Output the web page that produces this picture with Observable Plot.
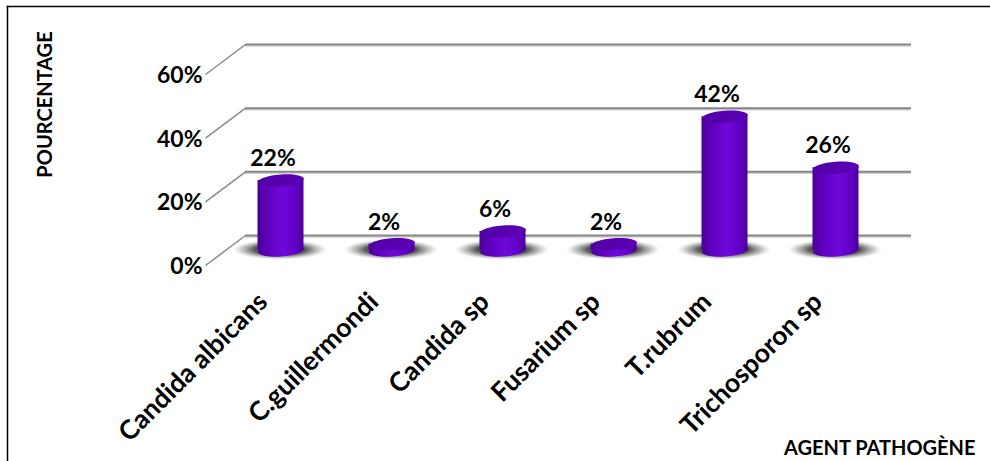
<!DOCTYPE html>
<html>
<head>
<meta charset="utf-8">
<script src="https://cdn.jsdelivr.net/npm/d3@7"></script>
<script src="https://cdn.jsdelivr.net/npm/@observablehq/plot@0.6"></script>
<style>
  html, body { margin: 0; padding: 0; background: #fff; overflow: hidden; }
  #chart svg { display: block; }
</style>
</head>
<body>
<div id="chart"></div>
<script>
// ---- data ----
const categories = ["Candida albicans", "C.guillermondi", "Candida sp", "Fusarium sp", "T.rubrum", "Trichosporon sp"];
const values = [22, 2, 6, 2, 42, 26];
const yTicks = [0, 20, 40, 60];
const yTitle = "POURCENTAGE";
const xTitle = "AGENT PATHOGÈNE";

const data = categories.map((c, i) => ({c, i: i + 0.5, v: values[i]}));

// ---- 3D geometry (pixel constants) ----
const W = 990, H = 461;
const xRange = [225, 891], yRange = [250, 59];
const pxPerX = (xRange[1] - xRange[0]) / categories.length;
const pxPerY = (yRange[0] - yRange[1]) / 60;
const depthPx = [20, 15]; // back plane offset from mid plane (right, up)
const dX = depthPx[0] / pxPerX, dY = depthPx[1] / pxPerY;
const halfW = 23 / pxPerX;

function ellipse(rx, ry) {
  const k = 0.5523;
  return {
    draw(ctx) {
      ctx.moveTo(rx, 0);
      ctx.bezierCurveTo(rx, ry * k, rx * k, ry, 0, ry);
      ctx.bezierCurveTo(-rx * k, ry, -rx, ry * k, -rx, 0);
      ctx.bezierCurveTo(-rx, -ry * k, -rx * k, -ry, 0, -ry);
      ctx.bezierCurveTo(rx * k, -ry, rx, -ry * k, rx, 0);
      ctx.closePath();
    }
  };
}

const font = "Lato, 'Open Sans', sans-serif";

const svg = Plot.plot({
  width: W,
  height: H,
  margin: 0,
  style: {fontFamily: font, background: "#fff"},
  x: {type: "linear", domain: [0, categories.length], range: xRange, axis: null},
  y: {type: "linear", domain: [0, 60], range: yRange, axis: null},
  marks: [
    // chart border (top & left only)
    Plot.frame({anchor: "top", stroke: "#000", strokeWidth: 1.5, insetTop: 6, insetLeft: 7}),
    Plot.frame({anchor: "left", stroke: "#000", strokeWidth: 1.5, insetTop: 6, insetLeft: 7}),
    // back wall gridlines (soft shadow + line)
    Plot.ruleY(yTicks, {x1: dX, x2: categories.length + dX, y: d => d + dY, stroke: "#d0d0d0", strokeWidth: 1.5, dy: 1.5}),
    Plot.ruleY(yTicks, {x1: dX, x2: categories.length + dX, y: d => d + dY, stroke: "#858585", strokeWidth: 2}),
    // side-wall diagonals
    Plot.link(yTicks, {x1: dX, y1: d => d + dY, x2: -dX, y2: d => d - dY, stroke: "#8a8a8a", strokeWidth: 1.5}),
    // shadows
    Plot.dot(data, {x: "i", y: 0, symbol: ellipse(47, 10), fill: "url(#shadowGrad)", stroke: null, dy: -1, dx: -1}),
    // cylinder bottoms
    Plot.dot(data, {x: "i", y: 0, symbol: ellipse(23, 6), fill: "url(#bodyGrad)", stroke: null, rotate: -4}),
    // cylinder bodies
    Plot.rect(data, {x1: d => d.i - halfW, x2: d => d.i + halfW, y1: 0, y2: "v", fill: "url(#bodyGrad)"}),
    // cylinder tops
    Plot.dot(data, {x: "i", y: "v", symbol: ellipse(23, 6), fill: "url(#topGrad)", stroke: null, rotate: -4}),
    // value labels
    Plot.text(data, {x: "i", y: "v", text: d => d.v + "%", dx: -8, dy: -22, fontSize: 23, fontWeight: "bold", fill: "#000"}),
    // y tick labels
    Plot.text(yTicks, {x: 0, y: d => d - dY, text: d => d + "%", textAnchor: "end", dx: -23, dy: 1, fontSize: 23, fontWeight: "bold", fill: "#000"}),
    // x tick labels
    Plot.text(data, {x: "i", y: 0, text: "c", rotate: -45, textAnchor: "end", lineAnchor: "bottom", dx: -12, dy: 53, fontSize: 26.5, fontWeight: "bold", fill: "#000"}),
    // axis titles
    Plot.text([yTitle], {frameAnchor: "top-left", text: d => d, rotate: -90, textAnchor: "middle", dx: 37, dy: 104, fontSize: 20, fontWeight: "bold", fill: "#000"}),
    Plot.text([xTitle], {frameAnchor: "bottom-right", text: d => d, textAnchor: "end", lineAnchor: "bottom", dx: -15, dy: -7, fontSize: 20, fontWeight: "bold", fill: "#000"})
  ]
});

svg.insertAdjacentHTML("afterbegin", `
<defs>
  <linearGradient id="bodyGrad" x1="0" x2="1" y1="0" y2="0">
    <stop offset="0" stop-color="#4a0096"/>
    <stop offset="0.18" stop-color="#5c00b8"/>
    <stop offset="0.55" stop-color="#6f08dc"/>
    <stop offset="0.82" stop-color="#6200c6"/>
    <stop offset="1" stop-color="#4c009a"/>
  </linearGradient>
  <linearGradient id="topGrad" x1="0" x2="1" y1="0" y2="0">
    <stop offset="0" stop-color="#5200a6"/>
    <stop offset="1" stop-color="#5c00b6"/>
  </linearGradient>
  <radialGradient id="shadowGrad" cx="0.5" cy="0.5" r="0.5">
    <stop offset="0" stop-color="#000" stop-opacity="0.9"/>
    <stop offset="0.55" stop-color="#222" stop-opacity="0.75"/>
    <stop offset="0.8" stop-color="#555" stop-opacity="0.35"/>
    <stop offset="1" stop-color="#888" stop-opacity="0"/>
  </radialGradient>
</defs>`);

document.getElementById("chart").appendChild(svg);
</script>
</body>
</html>
